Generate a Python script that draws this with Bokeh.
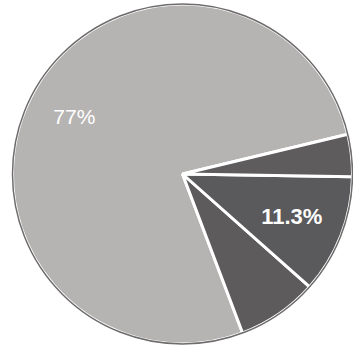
import math
from bokeh.plotting import figure
from bokeh.models import ColumnDataSource
from bokeh.core.properties import value
from bokeh.embed import file_html
from bokeh.resources import INLINE

# data
categories = ["A", "B", "C", "D"]
shares = [77.0, 7.7, 11.3, 4.0]
labels = ["77%", "", "11.3%", ""]
colors = ["#b6b4b2", "#5d5b5c", "#5a595b", "#5e5c5c"]

start_deg = 13.5
total = sum(shares)
starts, ends = [], []
a = math.radians(start_deg)
for s in shares:
    starts.append(a)
    a = a + 2 * math.pi * s / total
    ends.append(a)

src = ColumnDataSource(dict(cat=categories, share=shares, start=starts, end=ends, color=colors))

p = figure(width=353, height=349, x_range=(-182, 171), y_range=(-175.5, 173.5),
           output_backend="svg", toolbar_location=None, min_border=0)
p.axis.visible = False
p.grid.visible = False
p.outline_line_color = None
p.background_fill_color = "white"
p.border_fill_color = "white"

R = 170
p.wedge(x=0, y=0, radius=R, start_angle="start", end_angle="end", fill_color="color",
        line_color="white", line_width=3, source=src)
p.circle(x=0, y=0, radius=R, fill_color=None, line_color="#6e6c6c", line_width=1.5)

# label positions derived from slice mid angles
frac = [0.72, 0, 0.69, 0]
sizes = ["21px", "", "22px", ""]
styles = ["normal", "", "bold", ""]
for i, t in enumerate(labels):
    if t:
        mid = (starts[i] + ends[i]) / 2
        p.text(x=[frac[i] * R * math.cos(mid)], y=[frac[i] * R * math.sin(mid)], text=[t],
               text_color="white", text_font=value("Liberation Sans"),
               text_font_size=sizes[i], text_font_style=styles[i],
               text_align="center", text_baseline="middle")

open("out.html", "w").write(file_html(p, INLINE))
